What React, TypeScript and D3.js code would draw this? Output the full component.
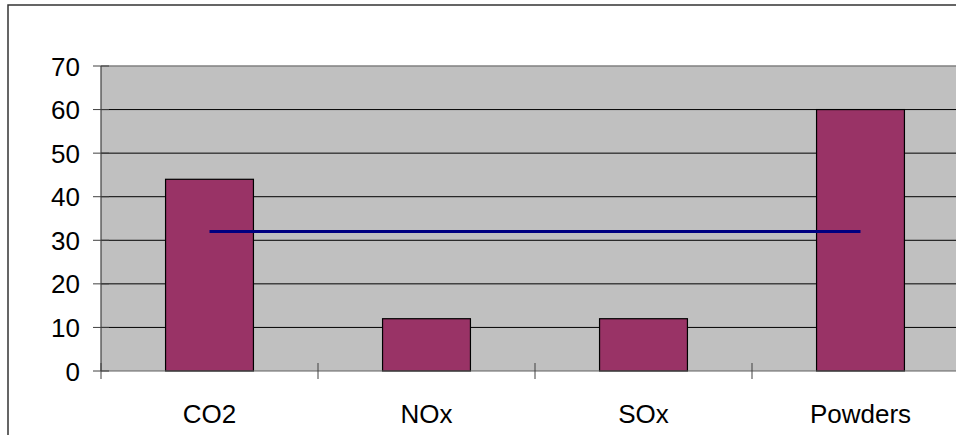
import React from "react";
import * as d3 from "d3";

const categories = ["CO2", "NOx", "SOx", "Powders"];
const values = [44, 12, 12, 60];
const averageValues = [32, 32, 32, 32];
const yTicks = [0, 10, 20, 30, 40, 50, 60, 70];

const W = 956;
const H = 435;
const plotLeft = 101;
const plotRight = 969;
const plotTop = 66;
const plotBottom = 371;

export default function App() {
  const x = d3.scaleBand<string>().domain(categories).range([plotLeft, plotRight]).padding(0);
  const y = d3.scaleLinear().domain([0, 70]).range([plotBottom, plotTop]);
  const step = x.step();
  const barW = step * 0.405;
  const center = (c: string) => (x(c) as number) + step / 2;
  const line = d3
    .line<number>()
    .x((_, i) => center(categories[i]))
    .y((d) => y(d));
  const font = "'Liberation Sans', Arial, sans-serif";

  return (
    <svg
      width={W}
      height={H}
      style={{ position: "absolute", left: 0, top: 0 }}
      xmlns="http://www.w3.org/2000/svg"
    >
      <rect x={0} y={0} width={W} height={H} fill="#ffffff" />
      <rect x={8} y={5} width={W + 20} height={H + 20} fill="#ffffff" stroke="#333333" strokeWidth={1.5} />
      <rect x={plotLeft} y={plotTop} width={plotRight - plotLeft} height={plotBottom - plotTop} fill="#C0C0C0" />
      {yTicks.filter((t) => t > 0 && t < 70).map((t) => (
        <line key={"g" + t} x1={plotLeft} x2={plotRight} y1={y(t)} y2={y(t)} stroke="#000000" strokeWidth={1} />
      ))}
      <line x1={plotLeft} x2={plotRight} y1={y(70)} y2={y(70)} stroke="#808080" strokeWidth={1.3} />
      {categories.map((c, i) => (
        <rect
          key={c}
          x={center(c) - barW / 2}
          y={y(values[i])}
          width={barW}
          height={y(0) - y(values[i])}
          fill="#993366"
          stroke="#000000"
          strokeWidth={1.2}
        />
      ))}
      <path d={line(averageValues) || ""} fill="none" stroke="#000080" strokeWidth={3} />
      <line x1={plotLeft} x2={plotLeft} y1={plotTop} y2={plotBottom} stroke="#404040" strokeWidth={1.2} />
      <line x1={plotLeft} x2={plotRight} y1={plotBottom} y2={plotBottom} stroke="#606060" strokeWidth={1.2} />
      {yTicks.map((t) => (
        <g key={"yt" + t}>
          <line x1={plotLeft - 8} x2={plotLeft + 8} y1={y(t)} y2={y(t)} stroke="#404040" strokeWidth={1} />
          <text
            x={80}
            y={y(t)}
            dy="0.37em"
            textAnchor="end"
            fontFamily={font}
            fontSize={26}
            fill="#000000"
          >
            {t}
          </text>
        </g>
      ))}
      {categories.map((c) => (
        <line
          key={"xt" + c}
          x1={x(c) as number}
          x2={x(c) as number}
          y1={plotBottom - 8}
          y2={plotBottom + 8}
          stroke="#404040"
          strokeWidth={1}
        />
      ))}
      {categories.map((c) => (
        <text
          key={"xl" + c}
          x={center(c)}
          y={422.5}
          textAnchor="middle"
          fontFamily={font}
          fontSize={26}
          fill="#000000"
        >
          {c}
        </text>
      ))}
    </svg>
  );
}
